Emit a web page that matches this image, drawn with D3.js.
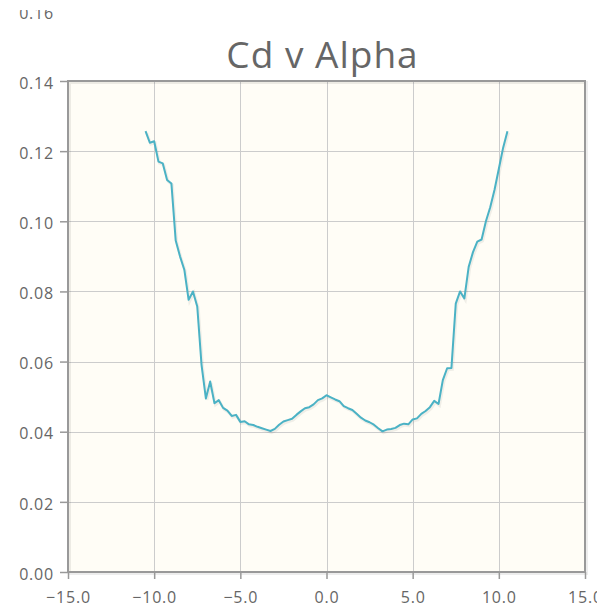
<!DOCTYPE html>
<html>
<head>
<meta charset="utf-8">
<script src="https://cdn.jsdelivr.net/npm/d3@7/dist/d3.min.js"></script>
<style>
  html, body { margin: 0; padding: 0; background: #ffffff; }
  svg { display: block; }
</style>
</head>
<body>
<svg id="chart" width="597" height="609"></svg>
<script>
// Angle of attack (deg) and drag coefficient
const alpha = [
  -10.5, -10.25, -10.0, -9.75, -9.5, -9.25, -9.0, -8.75, -8.5, -8.25,
  -8.0, -7.75, -7.5, -7.25, -7.0, -6.75, -6.5, -6.25, -6.0, -5.75,
  -5.5, -5.25, -5.0, -4.75, -4.5, -4.25, -4.0, -3.75, -3.5, -3.25,
  -3.0, -2.75, -2.5, -2.25, -2.0, -1.75, -1.5, -1.25, -1.0, -0.75,
  -0.5, -0.25, 0.0, 0.25, 0.5, 0.75, 1.0, 1.25, 1.5, 1.75,
  2.0, 2.25, 2.5, 2.75, 3.0, 3.25, 3.5, 3.75, 4.0, 4.25,
  4.5, 4.75, 5.0, 5.25, 5.5, 5.75, 6.0, 6.25, 6.5, 6.75,
  7.0, 7.25, 7.5, 7.75, 8.0, 8.25, 8.5, 8.75, 9.0, 9.25,
  9.5, 9.75, 10.0, 10.25, 10.5
];
const cd = [
  0.1257, 0.1224, 0.1228, 0.1170, 0.1165, 0.1118, 0.1108, 0.0945, 0.0900, 0.0862,
  0.0776, 0.0800, 0.0757, 0.0590, 0.0495, 0.0543, 0.0481, 0.0490, 0.0468, 0.0460,
  0.0445, 0.0448, 0.0428, 0.0430, 0.0421, 0.0419, 0.0414, 0.0410, 0.0406, 0.0402,
  0.0408, 0.0420, 0.0429, 0.0433, 0.0437, 0.0448, 0.0458, 0.0467, 0.0470, 0.0478,
  0.0490, 0.0495, 0.0504, 0.0498, 0.0492, 0.0487, 0.0473, 0.0467, 0.0462, 0.0451,
  0.0440, 0.0432, 0.0427, 0.0420, 0.0410, 0.0401, 0.0406, 0.0408, 0.0411, 0.0419,
  0.0423, 0.0421, 0.0435, 0.0438, 0.0451, 0.0459, 0.0470, 0.0488, 0.0479, 0.0547,
  0.0581, 0.0582, 0.0765, 0.0800, 0.0780, 0.0870, 0.0912, 0.0942, 0.0948, 0.1000,
  0.1040, 0.1090, 0.1150, 0.1210, 0.1257
];
const xTicks = [-15, -10, -5, 0, 5, 10, 15];
const yTicks = [0.00, 0.02, 0.04, 0.06, 0.08, 0.10, 0.12, 0.14, 0.16];
const title = "Cd v Alpha";

const svg = d3.select("#chart");
const m = { left: 68, right: 585, top: 81, bottom: 572 };

const x = d3.scaleLinear().domain([-15, 15]).range([m.left, m.right]);
const y = d3.scaleLinear().domain([0, 0.14]).range([m.bottom, m.top]);

// plot background
svg.append("rect")
  .attr("x", m.left).attr("y", m.top)
  .attr("width", m.right - m.left).attr("height", m.bottom - m.top)
  .attr("fill", "#fffdf6");

// grid lines
const grid = svg.append("g").attr("stroke", "#cccccc").attr("stroke-width", 1);
grid.selectAll(".gx").data(xTicks.filter(d => d > -15 && d < 15)).join("line")
  .attr("x1", d => Math.round(x(d)) + 0.5).attr("x2", d => Math.round(x(d)) + 0.5)
  .attr("y1", m.top).attr("y2", m.bottom);
grid.selectAll(".gy").data(yTicks.filter(d => d > 0 && d < 0.14)).join("line")
  .attr("y1", d => Math.round(y(d)) + 0.5).attr("y2", d => Math.round(y(d)) + 0.5)
  .attr("x1", m.left).attr("x2", m.right);

// border with soft shadow
svg.append("rect")
  .attr("x", m.left + 1.5).attr("y", m.top + 1.5)
  .attr("width", m.right - m.left).attr("height", m.bottom - m.top)
  .attr("fill", "none").attr("stroke", "#000").attr("stroke-opacity", 0.07)
  .attr("stroke-width", 3);
svg.append("rect")
  .attr("x", m.left).attr("y", m.top)
  .attr("width", m.right - m.left).attr("height", m.bottom - m.top)
  .attr("fill", "none").attr("stroke", "#999999").attr("stroke-width", 2);

// axes
const font = "'Open Sans', 'DejaVu Sans', sans-serif";
// the top-most y label sits partly above the visible area
svg.append("defs").append("clipPath").attr("id", "yclip")
  .append("rect").attr("x", -m.left).attr("y", 10).attr("width", 597).attr("height", 601);

const yAxis = d3.axisLeft(y).tickValues(yTicks).tickFormat(d3.format(".2f"))
  .tickSize(8).tickPadding(6);
const yG = svg.append("g").attr("transform", `translate(${m.left},0)`)
  .attr("clip-path", "url(#yclip)").call(yAxis);
yG.select(".domain").remove();
yG.selectAll(".tick line").attr("stroke", "#999999").attr("stroke-width", 1.5)
  .attr("display", d => d > 0.14 ? "none" : null);
yG.selectAll(".tick text").attr("fill", "#666666")
  .attr("dy", "0.45em")
  .style("font-family", font).style("font-size", "16px").style("letter-spacing", "0.8px");

const xAxis = d3.axisBottom(x).tickValues(xTicks).tickFormat(d3.format(".1f"))
  .tickSize(7).tickPadding(13);
const xG = svg.append("g").attr("transform", `translate(0,${m.bottom})`).call(xAxis);
xG.select(".domain").remove();
xG.selectAll(".tick line").attr("stroke", "#999999").attr("stroke-width", 1.5);
xG.selectAll(".tick text").attr("fill", "#666666")
  .style("font-family", font).style("font-size", "16px").style("letter-spacing", "0.8px");

// series
const pts = alpha.map((a, i) => [a, cd[i]]);
const line = d3.line().x(d => x(d[0])).y(d => y(d[1]));
svg.append("path").datum(pts)
  .attr("d", line).attr("transform", "translate(1,1.5)")
  .attr("fill", "none").attr("stroke", "#000").attr("stroke-opacity", 0.06)
  .attr("stroke-width", 3);
svg.append("path").datum(pts)
  .attr("d", line)
  .attr("fill", "none").attr("stroke", "#4bb2c5").attr("stroke-width", 2)
  .attr("stroke-linejoin", "round");

// title
svg.append("text")
  .attr("x", (m.left + m.right) / 2 - 4).attr("y", 68)
  .attr("text-anchor", "middle")
  .attr("fill", "#666666")
  .style("font-family", font).style("font-size", "37px")
  .style("letter-spacing", "1px")
  .text(title);
</script>
</body>
</html>
